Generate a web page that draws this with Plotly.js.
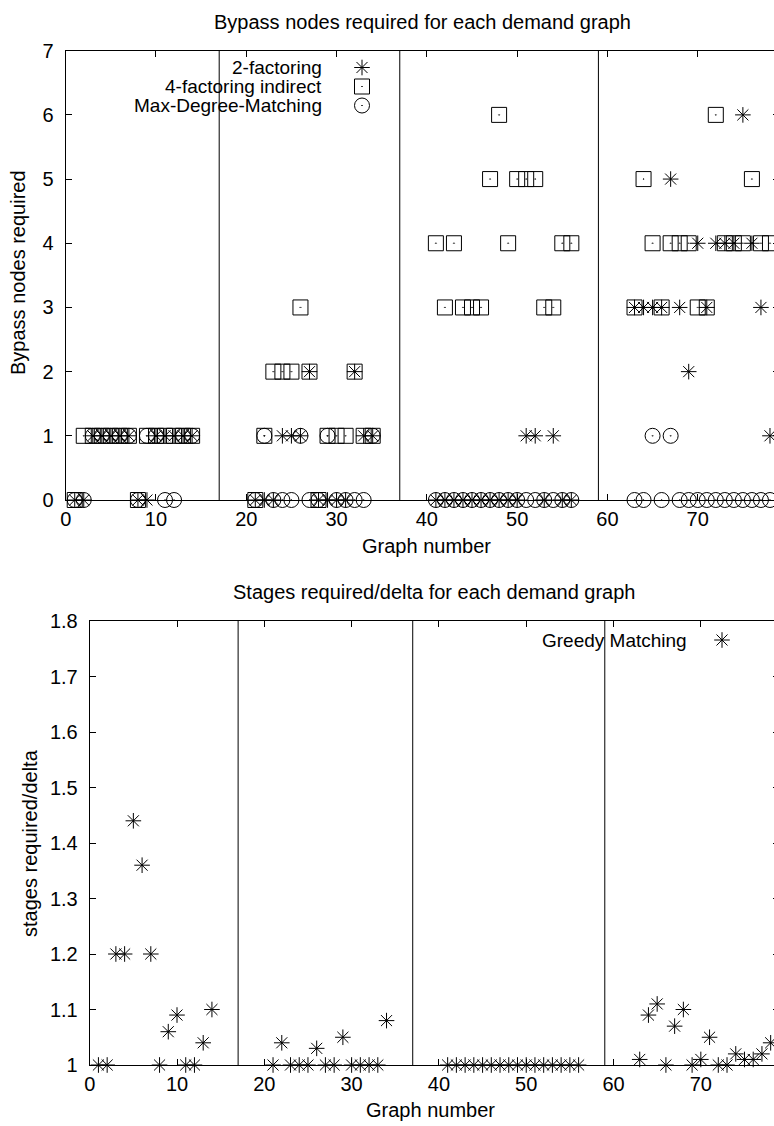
<!DOCTYPE html>
<html><head><meta charset="utf-8">
<script src="https://cdn.plot.ly/plotly-3.0.1.min.js"></script>
<style>html,body{margin:0;padding:0;overflow:hidden;background:#fff}#chart{width:800px;height:1126px}</style>
</head><body><div id="chart"></div><script>
// ---- data ----
const graphs = [1,2,3,4,5,6,7,8,9,10,11,12,13,14,
  21,22,23,24,25,26,27,28,29,30,31,32,33,34,
  41,42,43,44,45,46,47,48,49,50,51,52,53,54,55,56,
  63,64,65,66,67,68,69,70,71,72,73,74,75,76,77,78];
const twoFactoring = [0,0,1,1,1,1,1,0,0,1,1,1,1,1,
  0,0,0,1,1,1,2,0,0,0,0,2,1,1,
  0,0,0,0,0,0,0,0,0,0,1,1,0,1,0,0,
  3,3,3,3,5,3,2,4,3,4,4,4,6,4,3,1];
const fourFactoringIndirect = [0,1,1,1,1,1,1,0,1,1,1,1,1,1,
  0,1,2,2,2,3,2,0,1,1,1,2,1,1,
  4,3,4,3,3,3,5,6,4,5,5,5,3,3,4,4,
  3,5,4,3,4,4,4,3,3,6,4,4,4,5,4,4];
const maxDegreeMatching = [0,0,1,1,1,1,1,0,1,1,0,0,1,1,
  0,1,0,0,0,1,0,0,1,0,0,0,0,1,
  0,0,0,0,0,0,0,0,0,0,0,0,0,0,0,0,
  0,0,1,0,1,0,0,0,0,0,0,0,0,0,0,0];
const greedyMatching = [1,1,1.2,1.2,1.44,1.36,1.2,1,1.06,1.09,1,1,1.04,1.1,
  1,1.04,1,1,1,1.03,1,1,1.05,1,1,1,1,1.08,
  1,1,1,1,1,1,1,1,1,1,1,1,1,1,1,1,
  1.01,1.09,1.11,1,1.07,1.1,1,1.01,1.05,1,1,1.02,1.01,1.01,1.02,1.04];
const separators = [17, 37, 59];
const topNames = ['2-factoring', '4-factoring indirect', 'Max-Degree-Matching'];
const bottomNames = ['Greedy Matching'];

// ---- layout helpers ----
const W = 800, H = 1126;
const fx = p => p / W, fy = p => 1 - p / H;
const FONT = 'Liberation Sans, Arial, Helvetica, sans-serif';
const FS = 20;
const ink = '#000';
const sym = {
  star: {symbol: 'asterisk-open', size: 13, color: ink, line: {color: ink, width: 1}},
  square: {symbol: 'square-open-dot', size: 15, color: ink, line: {color: ink, width: 1}},
  circle: {symbol: 'circle-open-dot', size: 15, color: ink, line: {color: ink, width: 1}}
};

function pts(y, marker, name, xa, ya) {
  return {type: 'scatter', mode: 'markers', x: graphs, y: y, name: name,
    marker: marker, xaxis: xa, yaxis: ya, cliponaxis: false, showlegend: false};
}
const traces = [
  pts(fourFactoringIndirect, sym.square, topNames[1], 'x', 'y'),
  pts(maxDegreeMatching, sym.circle, topNames[2], 'x', 'y'),
  pts(twoFactoring, sym.star, topNames[0], 'x', 'y'),
  pts(greedyMatching, sym.star, bottomNames[0], 'x2', 'y2')
];
// legend keys (drawn right of right-aligned labels, gnuplot style) on a pixel overlay axis
const keyPos = [
  {name: topNames[0], m: sym.star, tx: 323, sx: 362, y: 67.5},
  {name: topNames[1], m: sym.square, tx: 323, sx: 362, y: 86.5},
  {name: topNames[2], m: sym.circle, tx: 323, sx: 362, y: 105.5},
  {name: bottomNames[0], m: sym.star, tx: 688, sx: 722, y: 640}
];
keyPos.forEach(k => traces.push({type: 'scatter', mode: 'markers', x: [k.sx], y: [k.y],
  marker: k.m, xaxis: 'x3', yaxis: 'y3', showlegend: false, hoverinfo: 'skip', cliponaxis: false}));

function xax(dom, anchor) {
  return {domain: dom, anchor: anchor, range: [0, 79], tick0: 0, dtick: 10, ticks: 'inside', ticklen: 6,
    tickcolor: ink, mirror: 'allticks', showline: true, linecolor: ink, linewidth: 1, showgrid: false,
    zeroline: false, tickfont: {family: FONT, size: FS, color: ink}, ticklabelstandoff: 1, fixedrange: true};
}
function yax(dom, anchor, range, dtick) {
  return {domain: dom, anchor: anchor, range: range, tick0: range[0], dtick: dtick, ticks: 'inside', ticklen: 6,
    tickcolor: ink, mirror: 'allticks', showline: true, linecolor: ink, linewidth: 1, showgrid: false,
    zeroline: false, tickfont: {family: FONT, size: FS, color: ink}, ticklabelstandoff: 7, fixedrange: true};
}
const shapes = [];
separators.forEach(s => {
  shapes.push({type: 'line', xref: 'x', yref: 'y domain', x0: s, x1: s, y0: 0, y1: 1, line: {color: ink, width: 1}});
  shapes.push({type: 'line', xref: 'x2', yref: 'y2 domain', x0: s, x1: s, y0: 0, y1: 1, line: {color: ink, width: 1}});
});
function ann(text, x, y, opt) {
  return Object.assign({text: text, xref: 'paper', yref: 'paper', x: fx(x), y: fy(y), showarrow: false,
    xanchor: 'center', yanchor: 'middle', font: {family: FONT, size: FS, color: ink}}, opt || {});
}
const annotations = [
  ann('Bypass nodes required for each demand graph', 422, 22),
  ann('Graph number', 426, 546),
  ann('Bypass nodes required', 18, 273, {textangle: -90}),
  ann('Stages required/delta for each demand graph', 434, 592),
  ann('Graph number', 430, 1110),
  ann('stages required/delta', 30, 843, {textangle: -90})
];
keyPos.forEach(k => annotations.push(ann(k.name, k.tx, k.y, {xanchor: 'right', borderpad: 0, font: {family: FONT, size: 19, color: ink}})));

const layout = {
  width: W, height: H, margin: {l: 0, r: 0, t: 0, b: 0},
  paper_bgcolor: '#fff', plot_bgcolor: 'rgba(0,0,0,0)', showlegend: false,
  font: {family: FONT, color: ink},
  xaxis: xax([fx(65.7), fx(779)], 'y'),
  yaxis: yax([fy(500), fy(50.7)], 'x', [0, 7], 1),
  xaxis2: xax([fx(89.7), fx(779.4)], 'y2'),
  yaxis2: yax([fy(1065), fy(621)], 'x2', [1, 1.8], 0.1),
  xaxis3: {domain: [0, 1], range: [0, W], visible: false, anchor: 'y3', fixedrange: true},
  yaxis3: {domain: [0, 1], range: [H, 0], visible: false, anchor: 'x3', fixedrange: true},
  shapes: shapes, annotations: annotations
};
Plotly.newPlot('chart', traces, layout, {staticPlot: true, displayModeBar: false});
</script></body></html>
